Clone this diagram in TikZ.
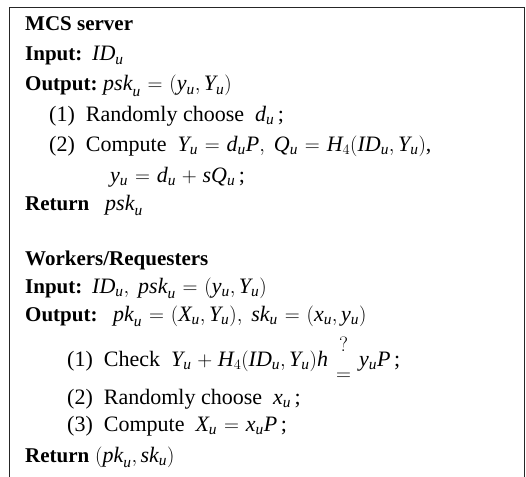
\documentclass[tikz,border=0pt]{standalone}
\usepackage{amsmath}
\usepackage{fontspec}
\setmainfont{Liberation Serif}
\usetikzlibrary{positioning}

\newcommand{\mi}[1]{\mathit{#1}}
\newcommand{\uu}{_{\mathit{u}}}
\newcommand{\qeq}{\mathrel{\genfrac{}{}{0pt}{0}{?}{=}}}
\thickmuskip=6mu plus 2mu
\medmuskip=5mu plus 2mu

\begin{document}
\begin{tikzpicture}[
    x=1pt, y=-1pt,
    txt/.style={anchor=base west, inner sep=0pt, font=\fontsize{22}{26}\selectfont},
    key/.style={txt, font=\fontsize{21}{25}\selectfont\bfseries},
    frame/.style={draw=black!85, line width=1.6pt}
]
\useasboundingbox (0,0) rectangle (526,476);

% Frame
\draw [frame] (9.5,7.5) rectangle (524.5,495);

% MCS server
\node [key] (mcs) at (25,31) {MCS server};
\node [key] (in1) at (25,61) {Input:};
\node [txt] (in1v) at (92,61) {$\mi{ID}\uu$};
\node [key] (out1) at (25,91) {Output:};
\node [txt] (out1v) at (103,91) {$\mi{psk}\uu = (\mi{y}\uu ,\mi{Y}\uu)$};
\node [txt] (s11) at (49,121) {(1)\ \ Randomly choose\ \ $\mi{d}\uu$\,;};
\node [txt] (s12) at (49,151) {(2)\ \ Compute\ \ $\mi{Y}\uu = \mi{d}\uu\mi{P},\ \mi{Q}\uu = \mi{H}_4(\mi{ID}\uu ,\mi{Y}\uu)$,};
\node [txt] (s12b) at (110,182) {$\mi{y}\uu = \mi{d}\uu + \mi{s}\mi{Q}\uu$\,;};
\node [key] (ret1) at (25,210) {Return};
\node [txt] (ret1v) at (105,210) {$\mi{psk}\uu$};

% Workers/Requesters
\node [key] (wr) at (25,265) {Workers/Requesters};
\node [key] (in2) at (25,293) {Input:};
\node [txt] (in2v) at (92,293) {$\mi{ID}\uu ,\ \mi{psk}\uu = (\mi{y}\uu ,\mi{Y}\uu)$};
\node [key] (out2) at (25,321) {Output:};
\node [txt] (out2v) at (113,321) {$\mi{pk}\uu = (\mi{X}\uu ,\mi{Y}\uu),\ \mi{sk}\uu = (\mi{x}\uu ,\mi{y}\uu)$};
\node [txt] (s21) at (67,366) {(1)\ \ Check\ \ $\mi{Y}\uu + \mi{H}_4(\mi{ID}\uu ,\mi{Y}\uu)\mi{h}\qeq\mi{y}\uu\mi{P}$\,;};
\node [txt] (s22) at (67,404) {(2)\ \ Randomly choose\ \ $\mi{x}\uu$\,;};
\node [txt] (s23) at (67,431) {(3)\ \ Compute\ \ $\mi{X}\uu = \mi{x}\uu\mi{P}$\,;};
\node [key] (ret2) at (25,462) {Return};
\node [txt] (ret2v) at (95,462) {$(\mi{pk}\uu ,\mi{sk}\uu)$};

\end{tikzpicture}
\end{document}
